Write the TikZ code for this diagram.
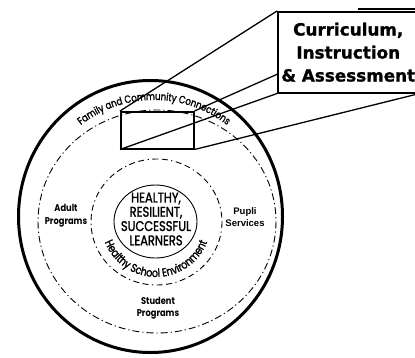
\documentclass[tikz,border=0pt]{standalone}
\usepackage{fontspec}
\usetikzlibrary{decorations.text,backgrounds}
\newfontfamily\futfont[FakeStretch=0.85]{Poppins}
\newfontfamily\futmed[FakeStretch=0.82,FakeBold=1.6]{Poppins}
\newfontfamily\helvfont{Liberation Sans}
\newfontfamily\boxfont[BoldFeatures={FakeBold=1.2}]{DejaVu Sans}
\tikzset{
  persp/.style={line width=1.3pt},
  dashdotring/.style={line width=0.9pt, dash pattern=on 7pt off 3pt on 1.2pt off 3pt},
  dashring/.style={line width=0.9pt, dash pattern=on 6pt off 3.5pt on 1.2pt off 3.5pt on 6pt off 3.5pt},
  smalllabel/.style={align=center, inner sep=0pt},
}
\begin{document}
\begin{tikzpicture}[x=1pt,y=-1pt]
\useasboundingbox (0,0) rectangle (415,357);
% rings
\draw[line width=3pt] (150.5,216.5) ellipse [x radius=132, y radius=136];
\draw[dashdotring] (157,221.5) ellipse [x radius=119, y radius=111.5];
\draw[dashring] (156.5,222) ellipse [x radius=65.5, y radius=63];
\draw[line width=0.9pt] (155.5,221.5) ellipse [x radius=41.5, y radius=36.5];
% box in the ring and the label box
\node[draw, line width=1.5pt, anchor=north west, minimum width=73, minimum height=37, inner sep=0pt] (rect) at (120,111) {};
\node[draw, line width=1.5pt, fill=white, anchor=north west, minimum width=141, minimum height=81, inner sep=0pt, align=center,
      font=\boxfont\bfseries\fontsize{16.8}{23}\selectfont] (lab) at (277,11) {Curriculum,\\Instruction\\\& Assessment};
\draw[line width=1.2pt] ([xshift=-62pt,yshift=2pt]lab.north east) -- ([yshift=2pt]lab.north east);
\begin{pgfonlayer}{background}
\draw[persp] (rect.north west) -- (lab.north west);
\draw[persp] (rect.north east) -- (lab.north east);
\draw[persp] (rect.south west) -- (lab.south west);
\draw[persp] (rect.south east) -- (lab.south east);
\end{pgfonlayer}
% texts
\node[smalllabel, font=\futmed\fontsize{14}{14.3}\selectfont] (core) at (156,219) {HEALTHY,\\RESILIENT,\\SUCCESSFUL\\LEARNERS};
\node[smalllabel, font=\futfont\bfseries\fontsize{9.8}{13}\selectfont] (adult) at (66,216) {Adult\\Programs};
\node[smalllabel, font=\helvfont\bfseries\fontsize{9.5}{12.5}\selectfont] (pupil) at (245,217) {Pupli\\Services};
\node[smalllabel, font=\futfont\bfseries\fontsize{9.8}{11.5}\selectfont] (student) at (158,308) {Student\\Programs};
\path[decorate, decoration={text along path, text align=center,
  text={|\futmed\fontsize{10.5}{10.5}\selectfont|Family and Community Connections}}]
  (154,219) ++(200:119) arc[start angle=200, end angle=340, radius=119];
\path[decorate, decoration={text along path, text align=center,
  text={|\futmed\fontsize{11.5}{11.5}\selectfont|Healthy School Environment}}]
  (156,222) ++(180:55) arc[start angle=180, end angle=0, radius=55];
\end{tikzpicture}
\end{document}
